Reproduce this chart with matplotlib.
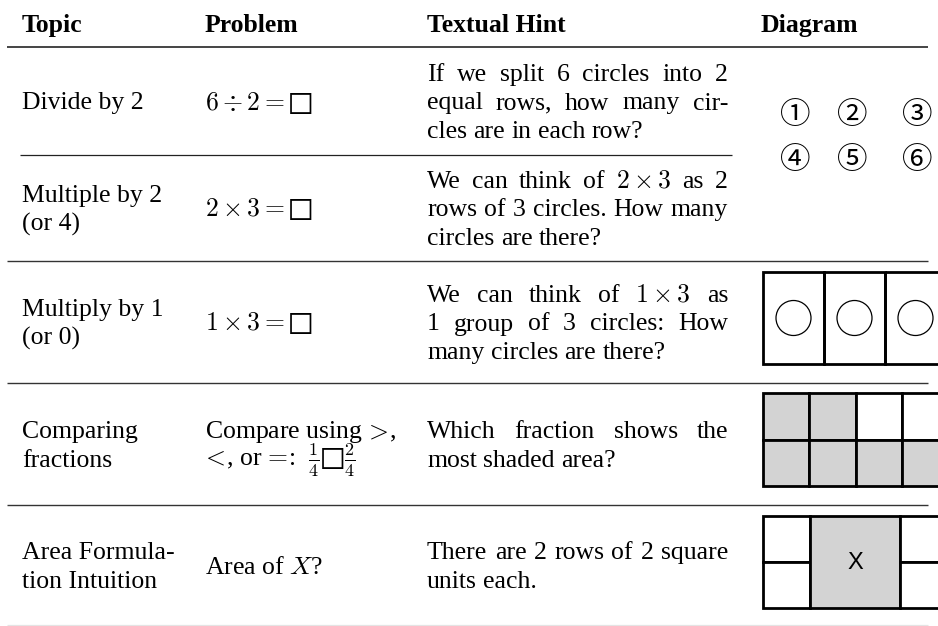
import matplotlib
matplotlib.use("Agg")
import matplotlib.pyplot as plt
from matplotlib.patches import Rectangle, Circle

plt.rcParams['mathtext.fontset'] = 'cm'
plt.rcParams['font.family'] = ['Liberation Serif', 'DejaVu Serif']

BOX = "\u25a1"
# ---------------- data ----------------
headers = ["Topic", "Problem", "Textual Hint", "Diagram"]
topics = [["Divide by 2"],
          ["Multiple by 2", "(or 4)"],
          ["Multiply by 1", "(or 0)"],
          ["Comparing", "fractions"],
          ["Area Formula-", "tion Intuition"]]
problems = [[r"$6 \div 2 = " + BOX + "$"],
            [r"$2 \times 3 = " + BOX + "$"],
            [r"$1 \times 3 = " + BOX + "$"],
            [r"Compare using $\!>\!$,",
             r"$\!<\!$, or $\!=\!$:  $\frac{1}{4}" + BOX + r"\frac{2}{4}$"],
            [r"Area of $X$?"]]
hints = [["If we split 6 circles into 2", "equal rows, how many cir-", "cles are in each row?"],
         [r"We can think of $2\times3$ as 2", "rows of 3 circles. How many", "circles are there?"],
         [r"We can think of $1\times3$ as", "1 group of 3 circles: How", "many circles are there?"],
         ["Which fraction shows the", "most shaded area?"],
         ["There are 2 rows of 2 square", "units each."]]
circled_digits = ["\u2460", "\u2461", "\u2462", "\u2463", "\u2464", "\u2465"]
group_items = 3                       # 1 group of 3 circles
fraction_shading = [[1, 1, 0, 0],     # top row
                    [1, 1, 1, 1]]     # bottom row
area_label = "X"

# ---------------- layout ----------------
W, H = 938, 626
fig = plt.figure(figsize=(W / 100, H / 100), dpi=100)
ax = fig.add_axes([0, 0, 1, 1])
ax.set_xlim(0, W)
ax.set_ylim(H, 0)
ax.axis('off')
renderer = fig.canvas.get_renderer()

FS = 18.5
col_x = [22, 205, 427, 761]
hint_right = 728
rules_y = [47.3, 154.7, 261, 383, 505, 625]
LINE = 28.5

# header
for hx, h in zip(col_x, headers):
    ax.text(hx, 32, h, fontsize=FS, fontweight='bold', va='baseline', ha='left')

# rules
ax.plot([7, 928], [rules_y[0]] * 2, color='#444444', lw=1.4, solid_capstyle='butt')
ax.plot([20, 732], [rules_y[1]] * 2, color='#222222', lw=0.9, solid_capstyle='butt')
for ry in rules_y[2:5]:
    ax.plot([7, 928], [ry] * 2, color='#333333', lw=1.0, solid_capstyle='butt')
ax.plot([7, 928], [rules_y[5]] * 2, color='#e4e4e4', lw=0.9, solid_capstyle='butt')


def baselines(i, n):
    center = (rules_y[i] + rules_y[i + 1]) / 2 + 8.5
    return [center + (k - (n - 1) / 2) * LINE for k in range(n)]


def draw_line(x0, x1, y, line, justify):
    words = line.split(" ")
    ts = [ax.text(x0, y, w, fontsize=FS, va='baseline', ha='left') for w in words]
    widths = [t.get_window_extent(renderer).width for t in ts]
    if justify and len(words) > 1:
        gap = (x1 - x0 - sum(widths)) / (len(words) - 1)
    else:
        gap = FS * 100 / 72 * 0.25
    x = x0
    for t, w in zip(ts, widths):
        t.set_x(x)
        x += w + gap


for i in range(5):
    for y, s in zip(baselines(i, len(topics[i])), topics[i]):
        ax.text(col_x[0], y, s, fontsize=FS, va='baseline', ha='left')
    for y, s in zip(baselines(i, len(problems[i])), problems[i]):
        ax.text(col_x[1], y, s, fontsize=FS, va='baseline', ha='left')
    lines = hints[i]
    for k, (y, s) in enumerate(zip(baselines(i, len(lines)), lines)):
        draw_line(col_x[2], hint_right, y, s, justify=(k < len(lines) - 1))

# diagram 1: circled digits (rows 1-2)
dx = [795, 852, 917]
dy = [112, 157]
for k, d in enumerate(circled_digits):
    ax.text(dx[k % 3], dy[k // 3], d, fontsize=22, ha='center', va='center_baseline',
            family=['Noto Sans CJK SC', 'DejaVu Sans'])

LW = 2.0
# diagram 2: one group of three circles
x0, y0, cw, ch = 763, 272, 61, 92
for k in range(group_items):
    ax.add_patch(Rectangle((x0 + k * cw, y0), cw, ch, fill=False, ec='black', lw=LW))
    ax.add_patch(Circle((x0 + k * cw + cw / 2, y0 + ch / 2), 17.5, fill=False,
                        ec='black', lw=0.9))

# diagram 3: fraction grid
x0, y0, cs = 762.7, 393.3, 46.4
for r, row in enumerate(fraction_shading):
    for c, v in enumerate(row):
        ax.add_patch(Rectangle((x0 + c * cs, y0 + r * cs), cs, cs,
                               fc='#d3d3d3' if v else 'white', ec='black', lw=LW))

# diagram 4: area
x0, y0, uh = 762.7, 515.7, 46.3
ax.add_patch(Rectangle((x0, y0), 47.3, uh, fc='white', ec='black', lw=LW))
ax.add_patch(Rectangle((x0, y0 + uh), 47.3, uh, fc='white', ec='black', lw=LW))
ax.add_patch(Rectangle((810, y0), 90, 2 * uh, fc='#d3d3d3', ec='black', lw=LW))
ax.add_patch(Rectangle((900, y0), 47.3, uh, fc='white', ec='black', lw=LW))
ax.add_patch(Rectangle((900, y0 + uh), 47.3, uh, fc='white', ec='black', lw=LW))
ax.text(855, y0 + uh + 1, area_label, fontsize=17, ha='center', va='center',
        family=['Liberation Sans', 'DejaVu Sans'])

fig.savefig("out.png", dpi=100)
